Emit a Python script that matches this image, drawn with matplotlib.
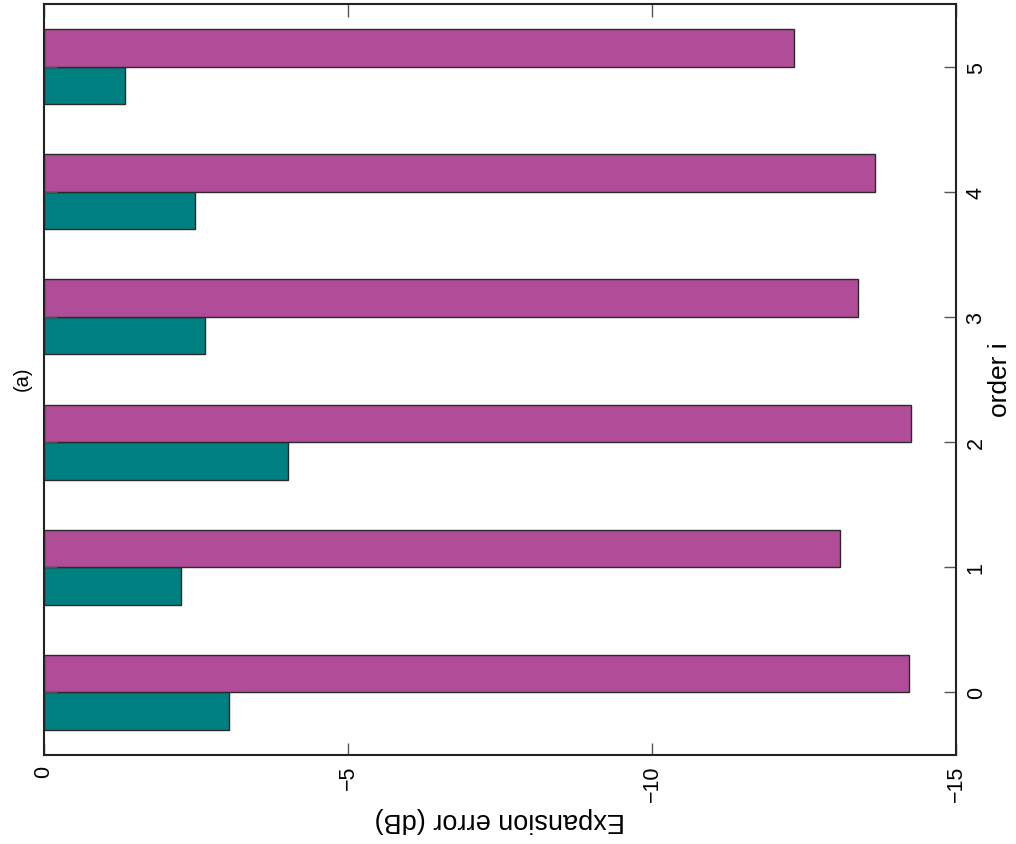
import numpy as np
import matplotlib
matplotlib.use("Agg")
import matplotlib.pyplot as plt

plt.rcParams["font.family"] = ["Liberation Sans", "DejaVu Sans"]

# Expansion error per order, two methods
orders = [0, 1, 2, 3, 4, 5]
err_teal = [-3.04, -2.25, -4.02, -2.65, -2.48, -1.33]
err_magenta = [-14.23, -13.10, -14.26, -13.38, -13.67, -12.33]
value_ticks = [0, -5, -10, -15]

TEAL = "#008080"
MAGENTA = "#b04c98"
EDGE = "#2a2a2a"

fig = plt.figure(figsize=(10.16, 8.45), dpi=100)
ax = fig.add_axes([44 / 1016, 89 / 845, 912 / 1016, 751 / 845])

y = np.array(orders, dtype=float)
ax.barh(y - 0.15, err_teal, height=0.3, color=TEAL, edgecolor=EDGE, linewidth=1.0)
ax.barh(y + 0.15, err_magenta, height=0.3, color=MAGENTA, edgecolor=EDGE, linewidth=1.0)

ax.set_xlim(0, -15)
ax.set_ylim(-0.5, 5.5)
ax.set_xticks(value_ticks)
ax.set_yticks(orders)

ax.tick_params(axis="both", direction="in", length=9, width=1.0, color="#555555", pad=7)
ax.tick_params(axis="x", top=True, bottom=True, labelrotation=90)
ax.tick_params(axis="y", left=True, right=True, labelleft=False, labelright=True,
               labelrotation=90)
for lbl in ax.get_xticklabels() + ax.get_yticklabels():
    lbl.set_fontsize(15.5)
for lbl in ax.get_yticklabels():
    lbl.set_verticalalignment("center")

for s in ax.spines.values():
    s.set_linewidth(1.5)
    s.set_color("#222222")

fig.text(500 / 1016, 1 - 820 / 845, "Expansion error (dB)", rotation=180,
         ha="center", va="center", fontsize=19.5)
fig.text(1000 / 1016, 1 - 380 / 845, "order i", rotation=90,
         ha="center", va="center", fontsize=19)
fig.text(22 / 1016, 1 - 379 / 845, "(a)", rotation=90,
         ha="center", va="center", fontsize=14.5)

fig.savefig("out.png", dpi=100)
